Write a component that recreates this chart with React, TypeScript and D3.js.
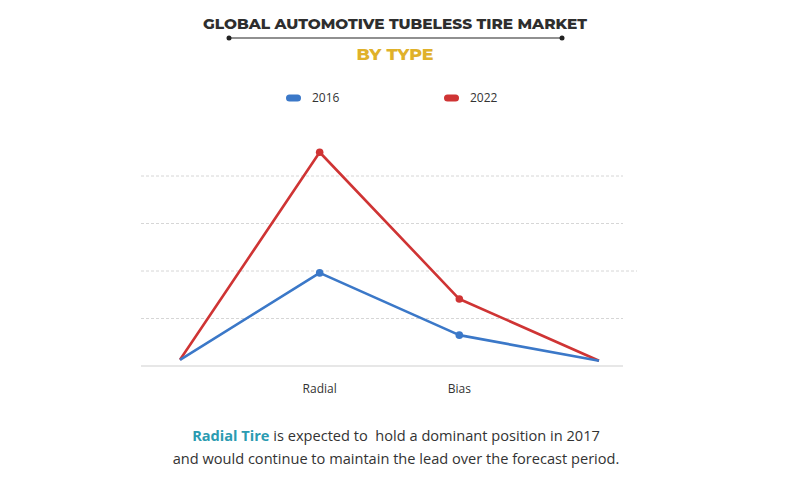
import React from "react";
import * as d3 from "d3";

const categories = ["start", "Radial", "Bias", "end"];
const tickLabels = ["", "Radial", "Bias", ""];
const series2016 = [0.13, 1.96, 0.65, 0.11];
const series2022 = [0.13, 4.5, 1.41, 0.11];
const gridValues = [0, 1, 2, 3, 4];
const seriesNames = ["2016", "2022"];
const colors = ["#3b78c8", "#cf3434"];

const W = 790;
const H = 487;

export default function App() {
  const x = d3.scalePoint<string>().domain(categories).range([180, 599]);
  const y = d3.scaleLinear().domain([0, 4]).range([366, 176]);
  const line = d3
    .line<number>()
    .x((_, i) => x(categories[i]) as number)
    .y((d) => y(d));
  const allSeries = [series2016, series2022];
  const font = "'Open Sans', sans-serif";
  const titleFont = "Montserrat, 'Open Sans', 'DejaVu Sans', sans-serif";
  return (
    <svg
      width={W}
      height={H}
      style={{ position: "absolute", left: 0, top: 0, background: "#fff" }}
    >
      <text
        x={395}
        y={29}
        textAnchor="middle"
        fontFamily={titleFont}
        fontWeight={800}
        fontSize={15}
        fill="#2e2e2e"
        textLength={384}
        lengthAdjust="spacingAndGlyphs"
      >
        GLOBAL AUTOMOTIVE TUBELESS TIRE MARKET
      </text>
      <line x1={229} x2={562} y1={38} y2={38} stroke="#222" strokeWidth={1.2} />
      <circle cx={229} cy={38} r={2.5} fill="#222" />
      <circle cx={562} cy={38} r={2.5} fill="#222" />
      <text
        x={395}
        y={60}
        textAnchor="middle"
        fontFamily={titleFont}
        fontWeight={800}
        fontSize={17}
        fill="#e0b12a"
        textLength={77}
        lengthAdjust="spacingAndGlyphs"
      >
        BY TYPE
      </text>

      {seriesNames.map((name, i) => {
        const lx = i === 0 ? 286 : 444;
        return (
          <g key={name}>
            <rect x={lx} y={94.5} width={15} height={7} rx={3.5} fill={colors[i]} />
            <text x={lx + 26} y={102} fontFamily={font} fontSize={12} fill="#333">
              {name}
            </text>
          </g>
        );
      })}

      {gridValues.map((v) => (
        <line
          key={v}
          x1={141}
          x2={v === 2 ? 637 : 623}
          y1={y(v)}
          y2={y(v)}
          stroke={v === 0 ? "#cfcfcf" : "#d6d6d6"}
          strokeWidth={1}
          strokeDasharray={v === 0 ? undefined : "3,2"}
        />
      ))}

      {categories.map((c, i) => (
        <text
          key={c}
          x={x(c) as number}
          y={393}
          textAnchor="middle"
          fontFamily={font}
          fontSize={12}
          fill="#333"
        >
          {tickLabels[i]}
        </text>
      ))}

      {[1, 0].map((si) => (
        <g key={si}>
          <path
            d={line(allSeries[si]) || ""}
            fill="none"
            stroke={colors[si]}
            strokeWidth={2.6}
            strokeLinejoin="round"
          />
          {allSeries[si].map((v, i) =>
            i === 1 || i === 2 ? (
              <circle
                key={i}
                cx={x(categories[i]) as number}
                cy={y(v)}
                r={3.8}
                fill={colors[si]}
              />
            ) : null
          )}
        </g>
      ))}

      <text
        x={396}
        y={441}
        textAnchor="middle"
        fontFamily={font}
        fontSize={14.6}
        fill="#333"
        style={{ whiteSpace: "pre" }}
      >
        <tspan fontWeight={700} fill="#2b9bb1">
          Radial Tire
        </tspan>
        <tspan>{" is expected to  hold a dominant position in 2017"}</tspan>
      </text>
      <text
        x={396}
        y={464}
        textAnchor="middle"
        fontFamily={font}
        fontSize={14.6}
        fill="#333"
      >
        and would continue to maintain the lead over the forecast period.
      </text>
    </svg>
  );
}
